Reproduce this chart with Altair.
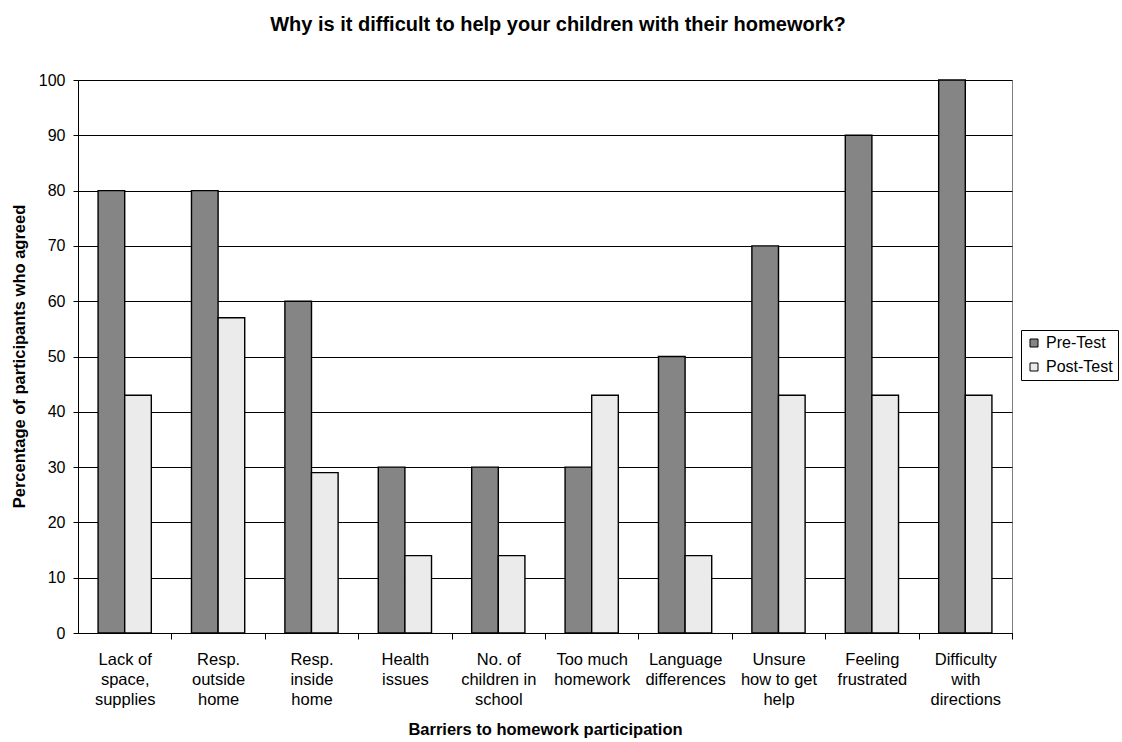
import altair as alt
import pandas as pd

categories = [
    "Lack of|space,|supplies",
    "Resp.|outside|home",
    "Resp.|inside|home",
    "Health|issues",
    "No. of|children in|school",
    "Too much|homework",
    "Language|differences",
    "Unsure|how to get|help",
    "Feeling|frustrated",
    "Difficulty|with|directions",
]
pre_test = [80, 80, 60, 30, 30, 30, 50, 70, 90, 100]
post_test = [43, 57, 29, 14, 14, 43, 14, 43, 43, 43]
series = ["Pre-Test", "Post-Test"]
colors = ["#858585", "#ebebeb"]
y_ticks = list(range(0, 101, 10))

rows = []
for c, a, b in zip(categories, pre_test, post_test):
    rows.append({"Barrier": c, "Series": "Pre-Test", "Value": a})
    rows.append({"Barrier": c, "Series": "Post-Test", "Value": b})
df = pd.DataFrame(rows)

FONT = "Liberation Sans"
W = 934
STEP = W / 10.0

chart = alt.Chart(df).mark_bar(stroke="black", strokeWidth=1.4).encode(
    x=alt.X(
        "Barrier:N",
        sort=categories,
        scale=alt.Scale(paddingInner=0.43, paddingOuter=0.215),
        axis=alt.Axis(
            title="Barriers to homework participation",
            labelAngle=0,
            labelExpr="split(datum.label, '|')",
            labelLineHeight=20,
            labelFontSize=16.5,
            labelPadding=12,
            labelBaseline="top",
            tickOffset=STEP / 2,
            labelOffset=-STEP / 2,
            tickSize=6,
            titleY=96,
            titleBaseline="middle",
        ),
    ),
    xOffset=alt.XOffset("Series:N", sort=series, scale=alt.Scale(domain=series, paddingInner=0, paddingOuter=0)),
    y=alt.Y(
        "Value:Q",
        scale=alt.Scale(domain=[0, 100], nice=False),
        axis=alt.Axis(
            title="Percentage of participants who agreed",
            values=y_ticks,
            labelFontSize=16,
            tickSize=5,
            labelPadding=8,
            grid=True,
            titleX=-59,
            titleY=276,
            titleBaseline="middle",
        ),
    ),
    color=alt.Color(
        "Series:N",
        sort=series,
        scale=alt.Scale(domain=series, range=colors),
        legend=alt.Legend(
            title=None,
            orient="none",
            legendX=943,
            legendY=250,
            symbolType="square",
            symbolSize=64,
            symbolStrokeColor="black",
            symbolStrokeWidth=1,
            labelFontSize=16,
            labelFont=FONT,
            labelColor="black",
            rowPadding=8,
            padding=5,
            strokeColor="black",
            fillColor="white",
        ),
    ),
).properties(
    width=W,
    height=553,
    title=alt.TitleParams(
        "Why is it difficult to help your children with their homework?",
        font=FONT,
        fontSize=20,
        fontWeight="bold",
        color="black",
        anchor="middle",
        dx=13,
        offset=27,
        baseline="middle",
    ),
    autosize=alt.AutoSizeParams(type="none"),
    padding={"left": 78, "top": 80, "right": 110, "bottom": 109},
).configure_view(
    stroke="#808080", strokeWidth=1
).configure_axis(
    labelFont=FONT,
    titleFont=FONT,
    titleFontSize=16.5,
    titleFontWeight="bold",
    labelColor="black",
    titleColor="black",
    domainColor="black",
    tickColor="black",
    gridColor="black",
    gridWidth=1,
    gridOpacity=1,
)

chart.save("out.html", embed_options={"renderer": "svg", "actions": False})
